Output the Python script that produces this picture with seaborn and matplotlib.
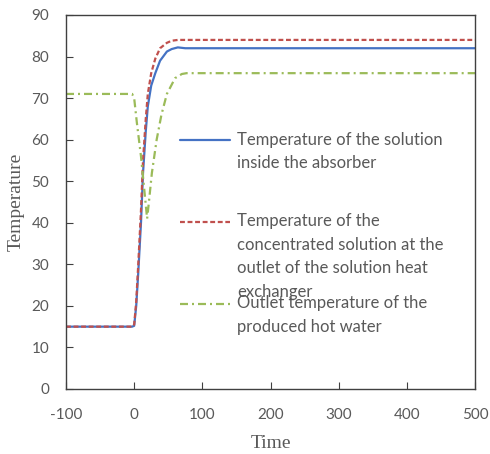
import matplotlib.pyplot as plt
import pandas as pd
import seaborn as sns

# data
time_sol = [-100, -10, -3, 0, 3, 6, 10, 13, 17, 20, 25, 31, 38, 48, 55, 64, 75, 100, 500]
temp_absorber = [15, 15, 15, 15.2, 20, 28, 40, 52, 62, 68, 73, 76, 79, 81.2, 81.8, 82.2, 82, 82, 82]
temp_hx_outlet = [15, 15, 15, 15.5, 21, 30, 43, 55, 65, 71, 76, 79.5, 82, 83.3, 83.8, 84, 84, 84, 84]

time_water = [-100, -3, 0, 4, 10, 16, 19, 21, 26, 33, 40, 48, 60, 70, 77, 500]
temp_hot_water = [71, 71, 70, 64, 56, 46, 41, 44, 52, 60, 66, 71, 74.8, 75.8, 76, 76]

labels = ['Temperature of the solution\ninside the absorber',
          'Temperature of the\nconcentrated solution at the\noutlet of the solution heat\nexchanger',
          'Outlet temperature of the\nproduced hot water']

x_ticks = [-100, 0, 100, 200, 300, 400, 500]
y_ticks = [0, 10, 20, 30, 40, 50, 60, 70, 80, 90]

sns.set_style('white')
plt.rcParams['font.family'] = ['Lato', 'DejaVu Sans']
plt.rcParams['axes.unicode_minus'] = False
gray = '#595959'

fig = plt.figure(figsize=(4.9, 4.54), dpi=100)
ax = fig.add_axes([0.1347, 0.1432, 0.8347, 0.8238])

df1 = pd.DataFrame({'time': time_sol, 'temp': temp_absorber})
df2 = pd.DataFrame({'time': time_sol, 'temp': temp_hx_outlet})
df3 = pd.DataFrame({'time': time_water, 'temp': temp_hot_water})

# Excel legend puts the marker next to the first text line -> pad labels with blank lines on top
def pad(s):
    return '\n' * s.count('\n') + s

sns.lineplot(data=df1, x='time', y='temp', ax=ax, color='#4472C4', lw=1.6, label=pad(labels[0]))
sns.lineplot(data=df2, x='time', y='temp', ax=ax, color='#C0504D', lw=1.6, ls=(0, (2.2, 1.2)), label=pad(labels[1]))
sns.lineplot(data=df3, x='time', y='temp', ax=ax, color='#9BBB59', lw=1.6, ls=(0, (3.6, 1.8, 0.9, 1.8)), label=pad(labels[2]))

ax.set_xlim(-100, 500)
ax.set_ylim(0, 90)
ax.set_xticks(x_ticks)
ax.set_yticks(y_ticks)
ax.tick_params(axis='both', direction='in', length=5, color='#404040', labelsize=11, labelcolor=gray)
ax.tick_params(axis='x', pad=14)
ax.tick_params(axis='y', pad=12)
ax.tick_params(left=True, bottom=True)
for s in ax.spines.values():
    s.set_color('#404040')
    s.set_linewidth(1.0)

ax.set_xlabel('Time', family='Liberation Serif', fontsize=14, color=gray, labelpad=9)
ax.set_ylabel('Temperature', family='Liberation Serif', fontsize=14, color=gray, labelpad=5)

leg = ax.legend(loc='upper left', bbox_to_anchor=(0.279, 0.751), frameon=False, fontsize=12,
                handlelength=3.0, handletextpad=0.42, labelspacing=-1.66, labelcolor=gray,
                borderpad=0, borderaxespad=0)
for t in leg.get_texts():
    t.set_linespacing(1.57)

fig.savefig('out.png', dpi=100)
